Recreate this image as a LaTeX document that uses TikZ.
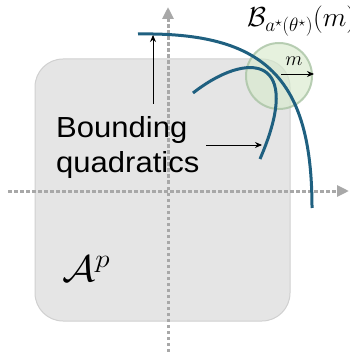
\RequirePackage{fix-cm}
\documentclass[tikz,border=0pt]{standalone}
\usepackage{fontspec}
\newfontfamily\arial{Liberation Sans}
\usetikzlibrary{arrows.meta}
\definecolor{curvec}{HTML}{1F6080}
\definecolor{rectfill}{HTML}{E5E5E5}
\definecolor{rectdraw}{HTML}{D0D0D0}
\definecolor{ballfill}{HTML}{D8EACD}
\definecolor{balldraw}{HTML}{A9C3A4}
\definecolor{axisc}{HTML}{A8A8A8}
\tikzset{
  axisline/.style={axisc, line width=3pt, dash pattern=on 3.5pt off 2.5pt, -{Triangle[length=12pt,width=11pt]}},
  quad/.style={curvec, line width=3pt},
  pointer/.style={black, line width=0.9pt, -{Stealth[length=7pt,width=6pt]}},
}
\begin{document}
\begin{tikzpicture}[x=1pt,y=-1pt]
\useasboundingbox (0,0) rectangle (349,352);
% feasible set
\node[draw=rectdraw, fill=rectfill, line width=1pt, rounded corners=28pt, minimum width=255pt, minimum height=262pt, inner sep=0pt] (A) at (162.5,190) {};
% axes
\coordinate (xs) at (8,191);
\coordinate (xe) at (349,191);
\coordinate (ys) at (168,352);
\coordinate (ye) at (168,7);
\draw[axisline] (xs) -- (xe);
\draw[axisline] (ys) -- (ye);
% ball
\node[circle, draw=balldraw, fill=ballfill, fill opacity=0.65, draw opacity=0.8, line width=2pt, minimum size=66pt, inner sep=0pt] (ball) at (279,76) {};
% quadratics
\coordinate (q1s) at (138,34);
\coordinate (q1e) at (312,208);
\coordinate (q2s) at (193,93);
\coordinate (q2e) at (260,159);
\draw[quad] (q1s) .. controls (265,32) and (312,78) .. (q1e);
\draw[quad] (q2s) .. controls (248,50) and (305,55) .. (q2e);
% radius arrow
\coordinate (mc) at (281,74);
\coordinate (me) at (314,74);
\draw[pointer] (mc) -- (me);
\node[font=\fontsize{20}{24}\selectfont, anchor=base, inner sep=0pt] (mlbl) at (294,66) {$m$};
% labels
\node[font=\fontsize{27.5}{32}\selectfont, anchor=base west, inner sep=0pt] (blbl) at (247,27) {$\mathcal{B}_{a^\star(\theta^\star)}(m)$};
\node[font=\fontsize{37}{42}\selectfont, anchor=base west, inner sep=0pt] (alb) at (62,281) {\scalebox{1.12}[1]{$\mathcal{A}^p$}};
\node[font=\arial\fontsize{29}{35}\selectfont, anchor=base west, inner sep=0pt] (txt) at (56,173) {\scalebox{1.07}[1]{\begin{tabular}[b]{@{}l@{}}Bounding\\quadratics\end{tabular}}};
% pointers
\coordinate (p1s) at (153,104);
\coordinate (p1e) at (153,35);
\coordinate (p2s) at (206,145);
\coordinate (p2e) at (262,145);
\draw[pointer] (p1s) -- (p1e);
\draw[pointer] (p2s) -- (p2e);
\end{tikzpicture}
\end{document}
